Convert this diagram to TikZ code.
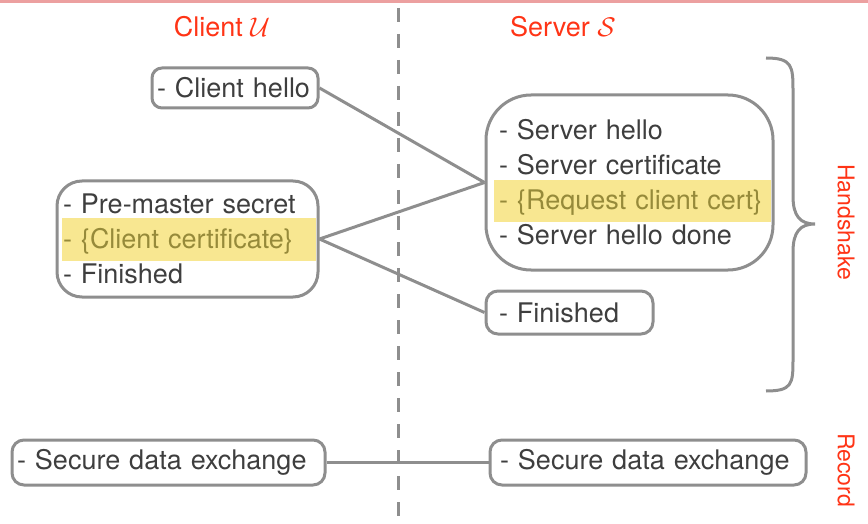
\documentclass[tikz,border=0pt]{standalone}
\usepackage{fix-cm}
\usepackage{fontspec}
\setmainfont{TeX Gyre Heros}
\usepackage{tikz}
\usetikzlibrary{positioning}
\definecolor{boxgray}{RGB}{142,142,142}
\definecolor{textgray}{RGB}{62,62,62}
\definecolor{hiyellow}{RGB}{248,231,145}
\definecolor{hitext}{RGB}{150,138,58}
\definecolor{labelred}{RGB}{255,52,22}
\definecolor{topline}{RGB}{236,160,160}

\begin{document}
\begin{tikzpicture}[x=1pt,y=-1pt,
  msg/.style={draw=boxgray,line width=3pt,text=textgray,align=left,
    inner ysep=0pt,font=\fontsize{27}{35}\selectfont},
  link/.style={draw=boxgray,line width=3pt},
  title/.style={text=labelred,font=\fontsize{27}{32}\selectfont},
  side/.style={text=labelred,font=\fontsize{23}{28}\selectfont,rotate=-90}]
  \useasboundingbox (0,0) rectangle (868,524);
  \fill[topline] (0,0) rectangle (868,3);
  % ---- column titles and divider ----
  \node[title] (client) at (222,27) {Client\ $\mathcal{U}$};
  \node[title] (server) at (563,27) {Server\ $\mathcal{S}$};
  \draw[boxgray,line width=3pt,dash pattern=on 14pt off 12pt] (398,8) -- (398,524);
  % ---- optional messages, highlighted ----
  \fill[hiyellow] (494,180) rectangle (771,222);
  \fill[hiyellow] (62,218) rectangle (316,261);
  % ---- handshake messages ----
  \node[msg,rounded corners=10pt,text width=156pt,inner xsep=5pt,minimum height=40pt]
    (chello) at (235,88) {- Client hello};
  \node[msg,rounded corners=45pt,text width=261pt,inner xsep=13pt,minimum height=175pt]
    (shello) at (629.5,182.5) {- Server hello\\- Server certificate\\
      \mbox{\textcolor{hitext}{- \{Request client cert\}}}\\- Server hello done};
  \node[msg,rounded corners=25pt,text width=249pt,inner xsep=6pt,minimum height=116pt]
    (cfin) at (187.5,239) {- Pre-master secret\\
      \textcolor{hitext}{- \{Client certificate\}}\\- Finished};
  \node[msg,rounded corners=12pt,text width=141pt,inner xsep=13pt,minimum height=43pt]
    (sfin) at (569.5,312.5) {- Finished};
  % ---- record layer ----
  \node[msg,rounded corners=12pt,text width=303pt,inner xsep=5pt,minimum height=45pt]
    (crec) at (168.5,462.5) {- Secure data exchange};
  \node[msg,rounded corners=12pt,text width=296pt,inner xsep=10pt,minimum height=45pt]
    (srec) at (648,462.5) {- Secure data exchange};
  % ---- message flow ----
  \draw[link] (chello.east) -- (shello.west);
  \draw[link] (shello.west) -- (cfin.east);
  \draw[link] (cfin.east) -- (sfin.west);
  \draw[link] (crec.east) -- (srec.west);
  % ---- brace and phase labels ----
  \draw[boxgray,line width=3pt] (766,58) .. controls (792,58) and (793,66) .. (793,90)
    -- (793,196) .. controls (793,216) and (800,224) .. (815,224)
    .. controls (800,224) and (793,232) .. (793,252)
    -- (793,360) .. controls (793,384) and (792,391) .. (766,391);
  \node[side] (hshake) at (846,222) {Handshake};
  \node[side] (record) at (846,470) {Record};
\end{tikzpicture}
\end{document}
